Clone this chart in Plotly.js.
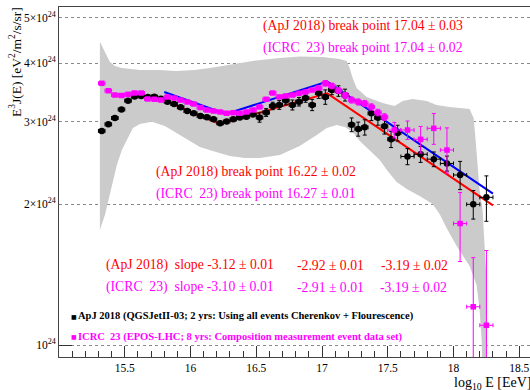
<!DOCTYPE html>
<html>
<head>
<meta charset="utf-8">
<script src="https://cdn.plot.ly/plotly-3.0.1.min.js"></script>
<style>
  html, body { margin: 0; padding: 0; overflow: hidden; background: #ffffff; }
  #chart { width: 545px; height: 390px; }
</style>
</head>
<body>
<div id="chart"></div>
<script>
// E^3 J(E) spectra, flux values in units of 1e24 eV^2 / m^2 / s / sr, energies as log10(E/eV)

// ApJ 2018 (QGSJetII-03, 2 yrs, Cherenkov + fluorescence)
const apjLogE = [15.325, 15.375, 15.425, 15.475, 15.525, 15.575, 15.625, 15.675, 15.725, 15.775,
  15.825, 15.875, 15.925, 15.975, 16.025, 16.075, 16.125, 16.175, 16.225, 16.275,
  16.325, 16.375, 16.425, 16.475, 16.525, 16.575, 16.625, 16.675, 16.725, 16.775,
  16.825, 16.875, 16.925, 16.975, 17.025, 17.075, 17.125, 17.175, 17.225, 17.275,
  17.325, 17.375, 17.425, 17.475, 17.525, 17.575, 17.65, 17.75, 17.85, 17.95,
  18.05, 18.15, 18.25];
const apjFlux = [2.867, 2.962, 3.055, 3.186, 3.327, 3.396, 3.405, 3.388, 3.393, 3.359,
  3.311, 3.273, 3.220, 3.162, 3.126, 3.085, 3.065, 3.035, 2.977, 3.003,
  3.035, 3.063, 3.075, 3.108, 3.063, 3.139, 3.242, 3.258, 3.330, 3.258,
  3.311, 3.371, 3.258, 3.455, 3.388, 3.506, 3.489, 3.421, 2.956, 2.894,
  2.919, 3.126, 3.059, 2.933, 2.752, 2.838, 2.528, 2.556, 2.495, 2.443,
  2.308, 1.998, 2.068];
const apjErr = [0.015, 0.015, 0.015, 0.015, 0.015, 0.015, 0.015, 0.015, 0.015, 0.015,
  0.015, 0.015, 0.015, 0.015, 0.03, 0.03, 0.03, 0.03, 0.03, 0.03,
  0.03, 0.03, 0.03, 0.03, 0.07, 0.06, 0.06, 0.07, 0.07, 0.08,
  0.07, 0.07, 0.09, 0.09, 0.12, 0.08, 0.09, 0.10, 0.10, 0.10,
  0.11, 0.11, 0.11, 0.11, 0.11, 0.11, 0.10, 0.10, 0.09, 0.09,
  0.16, 0.14, 0.23];
const apjBinHalf = [0.025, 0.025, 0.025, 0.025, 0.025, 0.025, 0.025, 0.025, 0.025, 0.025,
  0.025, 0.025, 0.025, 0.025, 0.025, 0.025, 0.025, 0.025, 0.025, 0.025,
  0.025, 0.025, 0.025, 0.025, 0.025, 0.025, 0.025, 0.025, 0.025, 0.025,
  0.025, 0.025, 0.025, 0.025, 0.025, 0.025, 0.025, 0.025, 0.025, 0.025,
  0.025, 0.025, 0.025, 0.025, 0.025, 0.025, 0.05, 0.05, 0.05, 0.05,
  0.05, 0.05, 0.05];

// ICRC 23 (EPOS-LHC, 8 yrs, composition event set)
const icrcLogE = [15.325, 15.375, 15.425, 15.475, 15.525, 15.575, 15.625, 15.675, 15.725, 15.775,
  15.825, 15.875, 15.925, 15.975, 16.025, 16.075, 16.125, 16.175, 16.225, 16.275,
  16.325, 16.375, 16.425, 16.475, 16.525, 16.575, 16.625, 16.675, 16.725, 16.775,
  16.825, 16.875, 16.925, 16.975, 17.025, 17.075, 17.125, 17.175, 17.225, 17.275,
  17.325, 17.375, 17.425, 17.475, 17.55, 17.65, 17.75, 17.85, 17.95, 18.05,
  18.15, 18.25];
const icrcFlux = [3.624, 3.494, 3.421, 3.413, 3.433, 3.455, 3.455, 3.355, 3.350, 3.338,
  3.388, 3.371, 3.338, 3.306, 3.273, 3.217, 3.178, 3.162, 3.147, 3.127,
  3.136, 3.127, 3.147, 3.178, 3.226, 3.350, 3.455, 3.388, 3.405, 3.421,
  3.450, 3.472, 3.506, 3.542, 3.624, 3.577, 3.498, 3.413, 3.338, 3.306,
  3.281, 3.226, 3.139, 3.070, 2.880, 2.880, 2.751, 2.904, 2.610, 1.818,
  1.207, 1.102];
const icrcErrUp = [0.015, 0.015, 0.015, 0.015, 0.015, 0.015, 0.015, 0.015, 0.015, 0.015,
  0.015, 0.015, 0.015, 0.015, 0.015, 0.015, 0.015, 0.015, 0.015, 0.015,
  0.015, 0.015, 0.015, 0.015, 0.02, 0.02, 0.02, 0.02, 0.02, 0.02,
  0.02, 0.02, 0.02, 0.02, 0.05, 0.05, 0.05, 0.05, 0.05, 0.05,
  0.05, 0.05, 0.05, 0.05, 0.11, 0.13, 0.18, 0.22, 0.30, 0.30,
  0.33, 0.49];
const icrcErrDown = [0.015, 0.015, 0.015, 0.015, 0.015, 0.015, 0.015, 0.015, 0.015, 0.015,
  0.015, 0.015, 0.015, 0.015, 0.015, 0.015, 0.015, 0.015, 0.015, 0.015,
  0.015, 0.015, 0.015, 0.015, 0.02, 0.02, 0.02, 0.02, 0.02, 0.02,
  0.02, 0.02, 0.02, 0.02, 0.05, 0.05, 0.05, 0.05, 0.05, 0.05,
  0.05, 0.05, 0.05, 0.05, 0.11, 0.13, 0.18, 0.22, 0.28, 0.31,
  0.50, 0.50];
const icrcBinHalf = [0.025, 0.025, 0.025, 0.025, 0.025, 0.025, 0.025, 0.025, 0.025, 0.025,
  0.025, 0.025, 0.025, 0.025, 0.025, 0.025, 0.025, 0.025, 0.025, 0.025,
  0.025, 0.025, 0.025, 0.025, 0.025, 0.025, 0.025, 0.025, 0.025, 0.025,
  0.025, 0.025, 0.025, 0.025, 0.025, 0.025, 0.025, 0.025, 0.025, 0.025,
  0.025, 0.025, 0.025, 0.025, 0.05, 0.05, 0.05, 0.05, 0.05, 0.05,
  0.05, 0.05];

// Systematic uncertainty band: upper and lower edges
const bandUpperE = [15.311, 15.349, 15.387, 15.425, 15.478, 15.615, 15.767, 15.888, 16.033, 16.147,
  16.276, 16.473, 16.678, 16.830, 17.005, 17.134, 17.188, 17.210, 17.233, 17.263,
  17.339, 17.461, 17.552, 17.613, 17.689, 17.796, 17.871, 17.970, 18.122, 18.153,
  18.168, 18.183, 18.198, 18.221, 18.236, 18.251, 18.255];
const bandUpperV = [4.447, 4.228, 4.025, 3.947, 3.908, 3.869, 3.869, 3.850, 3.869, 3.908,
  3.966, 4.045, 4.105, 4.136, 4.125, 4.084, 4.045, 3.908, 3.720, 3.542,
  3.388, 3.290, 3.242, 3.322, 3.355, 3.322, 3.258, 3.226, 3.194, 3.055,
  2.742, 2.424, 2.144, 1.943, 1.652, 1.377, 0.884];
const bandLowerE = [15.311, 15.349, 15.394, 15.440, 15.478, 15.524, 15.562, 15.615, 15.706, 15.805,
  15.919, 15.995, 16.071, 16.169, 16.298, 16.413, 16.527, 16.679, 16.830, 16.960,
  17.036, 17.112, 17.173, 17.233, 17.287, 17.363, 17.439, 17.499, 17.568, 17.644,
  17.742, 17.841, 17.894, 17.947, 18.024, 18.122, 18.176, 18.198, 18.214, 18.221];
const bandLowerV = [1.761, 1.895, 2.144, 2.424, 2.610, 2.769, 2.909, 2.967, 3.000, 2.938,
  2.810, 2.729, 2.649, 2.597, 2.534, 2.509, 2.509, 2.547, 2.662, 2.810,
  2.909, 2.952, 2.923, 2.852, 2.729, 2.610, 2.485, 2.354, 2.230, 2.154,
  2.082, 2.001, 1.905, 1.778, 1.627, 1.475, 1.344, 1.188, 1.025, 0.884];

// Broken power-law fits: break points, slopes, fit range, and flux at the first break
const apjBreaks = [16.22, 17.04];
const apjSlopes = [-3.12, -2.92, -3.19];
const apjFitRange = [15.70, 18.30];
const apjFitNorm = 2.966;
const icrcBreaks = [16.27, 17.04];
const icrcSlopes = [-3.10, -2.91, -3.19];
const icrcFitRange = [15.80, 18.30];
const icrcFitNorm = 3.116;

// Axis ticks
const yTickVals = [1, 2, 3, 4, 5];
const yTickText = ['10<sup>24</sup>', '2\u00d710<sup>24</sup>', '3\u00d710<sup>24</sup>',
                   '4\u00d710<sup>24</sup>', '5\u00d710<sup>24</sup>'];
const xTickVals = [15.5, 16, 16.5, 17, 17.5, 18, 18.5];

// E^3 J is a power law in E with index (slope + 3) on each segment
function brokenPowerLaw(breaks, slopes, range, norm) {
  const lg = Math.log10(norm);
  const xs = [range[0], breaks[0], breaks[1], range[1]];
  const l0 = lg - (slopes[0] + 3) * (breaks[0] - range[0]);
  const l2 = lg + (slopes[1] + 3) * (breaks[1] - breaks[0]);
  const l3 = l2 + (slopes[2] + 3) * (range[1] - breaks[1]);
  return { x: xs, y: [l0, lg, l2, l3].map(v => Math.pow(10, v)) };
}

const apjFit = brokenPowerLaw(apjBreaks, apjSlopes, apjFitRange, apjFitNorm);
const icrcFit = brokenPowerLaw(icrcBreaks, icrcSlopes, icrcFitRange, icrcFitNorm);

const RED = '#ff0000', MAG = '#ff00ff', BLUE = '#0000ff';
const SERIF = 'Liberation Serif';

const traces = [
  {
    x: bandUpperE.concat(bandLowerE.slice().reverse()),
    y: bandUpperV.concat(bandLowerV.slice().reverse()),
    mode: 'lines', fill: 'toself', line: { width: 0 },
    fillcolor: '#cbcbcb',
    hoverinfo: 'skip'
  },
  {
    x: apjFit.x, y: apjFit.y, mode: 'lines',
    line: { color: RED, width: 2 }
  },
  {
    x: icrcFit.x, y: icrcFit.y, mode: 'lines',
    line: { color: BLUE, width: 2 }
  },
  {
    x: apjLogE, y: apjFlux, mode: 'markers',
    marker: { symbol: 'circle', size: 6.5, color: '#000000' },
    error_y: { type: 'data', array: apjErr, color: '#000000', thickness: 1, width: 2 },
    error_x: { type: 'data', array: apjBinHalf, color: '#000000', thickness: 1, width: 2 }
  },
  {
    x: icrcLogE, y: icrcFlux, mode: 'markers',
    marker: { symbol: 'square', size: 5.5, color: MAG },
    error_y: { type: 'data', symmetric: false, array: icrcErrUp, arrayminus: icrcErrDown,
               color: MAG, thickness: 1, width: 2 },
    error_x: { type: 'data', array: icrcBinHalf, color: MAG, thickness: 1, width: 2 }
  }
];

const W = 545, H = 390, L = 59, R = 6, T = 7, B = 33;
const px = x => (x - L) / (W - L - R);
const py = y => (H - B - y) / (H - T - B);

function label(text, x, y, color, size, family) {
  return {
    text: text, xref: 'paper', yref: 'paper', x: px(x), y: py(y),
    xanchor: 'left', yanchor: 'middle', showarrow: false,
    font: { family: family || SERIF, size: size, color: color }
  };
}

const NB = '\u00a0';
const annotations = [
  label('(ApJ 2018) break point 17.04 \u00b1 0.03', 261, 26, RED, 13.7),
  label('(ICRC' + NB + NB + '23) break point 17.04 \u00b1 0.02', 261, 48.5, MAG, 13.7),
  label('(ApJ 2018) break point 16.22 \u00b1 0.02', 154, 171.5, RED, 13.7),
  label('(ICRC' + NB + NB + '23) break point 16.27 \u00b1 0.01', 154, 194, MAG, 13.7),
  label('(ApJ 2018)' + NB + NB + 'slope -3.12 \u00b1 0.01', 104, 265, RED, 13.7),
  label('-2.92 \u00b1 0.01', 295, 265, RED, 13.7),
  label('-3.19 \u00b1 0.02', 379, 265, RED, 13.7),
  label('(ICRC' + NB + NB + '23)' + NB + NB + 'slope -3.10 \u00b1 0.01', 104, 287, MAG, 13.7),
  label('-2.91 \u00b1 0.01', 295, 287, MAG, 13.7),
  label('-3.19 \u00b1 0.02', 378, 287, MAG, 13.7),
  label('\u25a0', 69, 316, '#000000', 6, 'DejaVu Sans'),
  label('<b>ApJ 2018 (QGSJetII-03; 2 yrs: Using all events Cherenkov + Flourescence)</b>', 76, 316, '#000000', 10.5),
  label('\u25a0', 69, 336.5, MAG, 6, 'DejaVu Sans'),
  label('<b>ICRC' + NB + NB + '23 (EPOS-LHC; 8 yrs: Composition measurement event data set)</b>', 76, 336.5, MAG, 10.5),
  // axis titles
  {
    text: 'E<sup>3</sup>J(E) [eV<sup>2</sup>/m<sup>2</sup>/s/sr]', textangle: -90,
    xref: 'paper', yref: 'paper', x: px(15), y: py(62), xanchor: 'center', yanchor: 'middle',
    showarrow: false, font: { family: SERIF, size: 13.5, color: '#000000' }
  },
  {
    text: 'log<sub>10</sub> E [EeV]',
    xref: 'paper', yref: 'paper', x: px(533), y: py(383), xanchor: 'right', yanchor: 'middle',
    showarrow: false, font: { family: SERIF, size: 14, color: '#000000' }
  }
];

const layout = {
  width: W, height: H,
  margin: { l: L, r: R, t: T, b: B, pad: 0 },
  paper_bgcolor: '#ffffff', plot_bgcolor: '#ffffff',
  showlegend: false,
  font: { family: SERIF, color: '#000000' },
  xaxis: {
    type: 'linear', range: [15, 18.65], autorange: false,
    tickmode: 'array', tickvals: xTickVals, ticktext: xTickVals.map(String),
    ticks: 'inside', ticklen: 11, tickcolor: '#333', tickwidth: 1,
    minor: { tickmode: 'linear', tick0: 15, dtick: 0.1, ticks: 'inside', ticklen: 6, tickcolor: '#333', tickwidth: 1 },
    showgrid: false, zeroline: false,
    showline: true, linecolor: '#444', linewidth: 1, mirror: true,
    tickfont: { family: SERIF, size: 11.5, color: '#000000' }
  },
  yaxis: {
    type: 'log', range: [-0.0256, 0.7222], autorange: false,
    tickmode: 'array', tickvals: yTickVals, ticktext: yTickText,
    ticks: '',
    minor: { tickmode: 'array', tickvals: [1], ticks: 'inside', ticklen: 13, tickcolor: '#333', tickwidth: 1, showgrid: false },
    showgrid: true, gridcolor: '#8a8a8a', griddash: 'dot', gridwidth: 1,
    zeroline: false,
    showline: true, linecolor: '#444', linewidth: 1, mirror: true,
    tickfont: { family: SERIF, size: 11.5, color: '#000000' }
  },
  annotations: annotations
};

Plotly.newPlot('chart', traces, layout, { staticPlot: true, displayModeBar: false });
</script>
</body>
</html>
